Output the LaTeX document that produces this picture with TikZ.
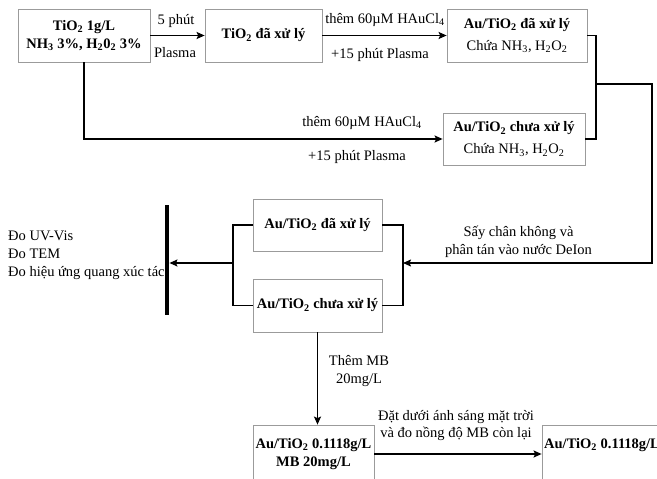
\documentclass[tikz,border=0pt]{standalone}
\usepackage{fontspec}
\setmainfont{Liberation Serif}
\usetikzlibrary{arrows.meta}
\definecolor{boxgray}{RGB}{155,155,155}
\begin{document}
\begin{tikzpicture}[x=1pt,y=-1pt,
  font=\fontsize{14.5}{18}\selectfont,
  box/.style={draw=boxgray, line width=0.8pt, inner sep=0pt, align=center},
  conn/.style={line width=1.4pt},
  arr/.style={conn, -{Stealth[length=8pt,width=7pt,inset=1.5pt]}},
  lbl/.style={inner sep=0pt, align=center}]
\useasboundingbox (0,0) rectangle (657,479);
\clip (0,0) rectangle (657,479);

% boxes
\node[box, minimum width=132pt, minimum height=53pt] (b1) at (84,35.5)
  {\textbf{TiO\textsubscript{2} 1g/L}\\\textbf{NH\textsubscript{3} 3\%, H\textsubscript{2}0\textsubscript{2} 3\%}};
\node[box, minimum width=117pt, minimum height=53pt] (b2) at (263.5,35.5)
  {\textbf{TiO\textsubscript{2} đã xử lý}};
\node[box, minimum width=140pt, minimum height=53pt] (b3) at (517,35.5)
  {\textbf{Au/TiO\textsubscript{2} đã xử lý}\\[4pt]Chứa NH\textsubscript{3}, H\textsubscript{2}O\textsubscript{2}};
\node[box, minimum width=142pt, minimum height=52pt] (b4) at (514,139)
  {\textbf{Au/TiO\textsubscript{2} chưa xử lý}\\[4pt]Chứa NH\textsubscript{3}, H\textsubscript{2}O\textsubscript{2}};
\node[box, minimum width=129pt, minimum height=52pt] (b5) at (317.5,225)
  {\textbf{Au/TiO\textsubscript{2} đã xử lý}};
\node[box, minimum width=129pt, minimum height=53pt] (b6) at (317.5,305.5)
  {\textbf{Au/TiO\textsubscript{2} chưa xử lý}};
\node[box, minimum width=121pt, minimum height=58pt] (b7) at (313.5,454)
  {\textbf{Au/TiO\textsubscript{2} 0.1118g/L}\\\textbf{MB 20mg/L}};
\node[box, minimum width=168pt, minimum height=58pt] (b8) at (626,454) {};
\node[lbl, anchor=west] (t8) at (544,445) {\textbf{Au/TiO\textsubscript{2} 0.1118g/L}};

% thick bar
\node[fill=black, minimum width=4.5pt, minimum height=110pt, inner sep=0pt] (bar) at (167,260) {};

% junction coordinates
\coordinate (j1) at (596,84);
\coordinate (c1) at (652,84);
\coordinate (rj) at (403,263);
\coordinate (lj) at (233,263);

% connectors
\draw[arr] (b1.east) -- (b2.west);
\draw[arr] (b2.east) -- (b3.west);
\draw[arr] (b1.south) |- (b4.west);
\draw[conn] (b3.east) -| (j1) |- (b4.east);
\draw[arr] (j1) -- (c1) |- (rj);
\draw[conn] (b5.east) -| (rj) |- (b6.east);
\draw[conn] (b5.west) -| (lj) |- (b6.west);
\draw[arr] (lj) -- (lj -| bar.east);
\draw[arr] (b6.south) -- (b6.south |- b7.north);
\draw[arr] (b7.east) -- (b8.west |- b7.east);

% labels
\node[lbl] (l1) at (176,21) {5 phút};
\node[lbl] (l2) at (175,53) {Plasma};
\node[lbl] (l3) at (385,20) {thêm 60µM HAuCl\textsubscript{4}};
\node[lbl] (l4) at (380,55) {+15 phút Plasma};
\node[lbl] (l5) at (362,123) {thêm 60µM HAuCl\textsubscript{4}};
\node[lbl] (l6) at (357,157) {+15 phút Plasma};
\node[lbl] (l7) at (518.5,241.5) {Sấy chân không và\\phân tán vào nước DeIon};
\node[lbl, align=left, anchor=west] (l8) at (8,255) {Đo UV-Vis\\Đo TEM\\Đo hiệu ứng quang xúc tác};
\node[lbl] (l9) at (359,371) {Thêm MB\\20mg/L};
\node[lbl, font=\fontsize{14.5}{17}\selectfont] (l10) at (456,425.5) {Đặt dưới ánh sáng mặt trời\\và đo nồng độ MB còn lại};
\end{tikzpicture}
\end{document}
